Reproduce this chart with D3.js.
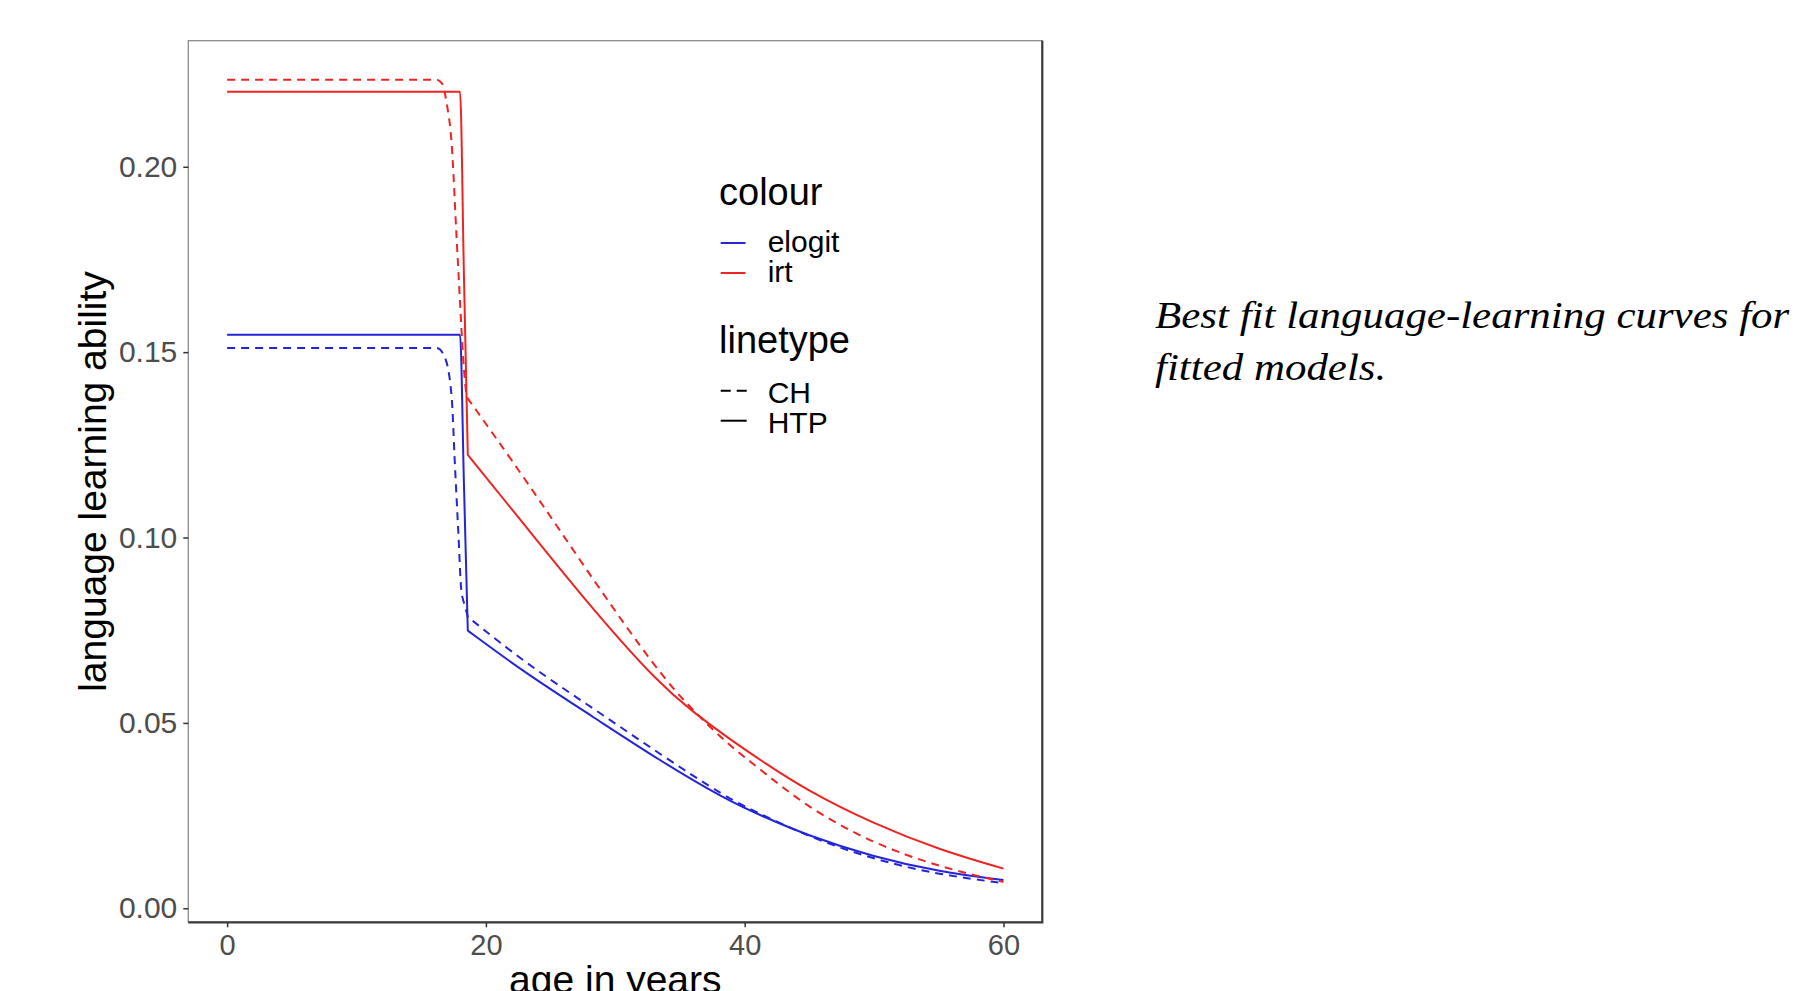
<!DOCTYPE html>
<html>
<head>
<meta charset="utf-8">
<script src="https://cdn.jsdelivr.net/npm/d3@7"></script>
<style>
    body { margin: 0; background: #fff; }
    .tick text { fill: #4d4d4d; }
    .tick line { stroke: #333; stroke-width: 1.5; }
    text { font-family: "Liberation Sans", Arial, sans-serif; }
    .axis-title { font-size: 39px; fill: #000; }
    .legend text { fill: #000; }
    .caption { font-family: "Liberation Serif", "Times New Roman", serif; font-style: italic; font-size: 38px; fill: #000; }
</style>
</head>
<body>
<div class="container"></div>
<script>
const WIDTH = 1799;
const HEIGHT = 991;

const PANEL_LEFT = 188.3;
const PANEL_RIGHT = 1042.3;
const PANEL_TOP = 40.7;
const PANEL_BOTTOM = 922.3;

// data
var xTicks = [0, 20, 40, 60];
var yTicks = [0, 0.05, 0.10, 0.15, 0.20];

var colourLevels = ["elogit", "irt"];
var linetypeLevels = ["CH", "HTP"];

// each curve: a plateau with its drop, then the decay tail (tail starts at the drop's end)
var irtHtpDropAges = [0, 18.0, 18.3, 18.6];
var irtHtpDropValues = [0.2202, 0.2202, 0.171, 0.1223];
var irtHtpTailAges = [18.6, 23.1, 28.3, 33.4, 36.0, 38.6, 41.2, 44.8, 49.9, 55.1, 60];
var irtHtpTailValues = [0.1223, 0.1029, 0.0804, 0.0605, 0.0530, 0.0462, 0.0400, 0.0318, 0.0229, 0.0157, 0.0107];

var irtChDropAges = [0, 16.2, 16.6, 16.97, 17.35, 17.73, 17.99, 18.25, 18.5];
var irtChDropValues = [0.2235, 0.2235, 0.2225, 0.2171, 0.2063, 0.1812, 0.1641, 0.1479, 0.138];
var irtChTailAges = [18.5, 23.1, 28.3, 33.4, 36.0, 38.6, 41.2, 44.8, 49.9, 55.1, 60];
var irtChTailValues = [0.138, 0.1155, 0.0885, 0.0633, 0.0534, 0.0445, 0.0375, 0.0273, 0.0175, 0.0111, 0.0071];

var elogitHtpDropAges = [0, 18.0, 18.3, 18.6];
var elogitHtpDropValues = [0.1547, 0.1547, 0.1148, 0.0749];
var elogitHtpTailAges = [18.6, 23.1, 28.3, 33.4, 38.6, 41.2, 44.8, 49.9, 55.1, 60];
var elogitHtpTailValues = [0.0749, 0.0633, 0.0516, 0.0399, 0.0292, 0.0251, 0.0197, 0.0139, 0.0098, 0.0076];

var elogitChDropAges = [0, 16.2, 16.8, 17.35, 17.6, 17.86, 18.1, 18.4, 18.6];
var elogitChDropValues = [0.1511, 0.1511, 0.1488, 0.138, 0.120, 0.102, 0.0858, 0.0813, 0.0786];
var elogitChTailAges = [18.6, 23.1, 28.3, 33.4, 38.6, 41.2, 44.8, 49.9, 55.1, 60];
var elogitChTailValues = [0.0786, 0.0660, 0.0539, 0.0417, 0.0298, 0.0255, 0.0195, 0.0132, 0.0090, 0.0068];

var captionLines = ["Best fit language-learning curves for", "fitted models."];

var colours = { elogit: "#2424d8", irt: "#ee2424" };
var dashes = { CH: "8,6", HTP: null };

var translate = function (x, y) {
    return "translate(" + x + "," + y + ")";
};

var zipSeries = function (ages, values) {
    return ages.map(function (a, i) {
        return { age: a, value: values[i] };
    });
};

var series = [
    { colour: "elogit", linetype: "CH",
      drop: zipSeries(elogitChDropAges, elogitChDropValues), tail: zipSeries(elogitChTailAges, elogitChTailValues) },
    { colour: "elogit", linetype: "HTP",
      drop: zipSeries(elogitHtpDropAges, elogitHtpDropValues), tail: zipSeries(elogitHtpTailAges, elogitHtpTailValues) },
    { colour: "irt", linetype: "CH",
      drop: zipSeries(irtChDropAges, irtChDropValues), tail: zipSeries(irtChTailAges, irtChTailValues) },
    { colour: "irt", linetype: "HTP",
      drop: zipSeries(irtHtpDropAges, irtHtpDropValues), tail: zipSeries(irtHtpTailAges, irtHtpTailValues) }
];

var loadChart = function () {
    var svg = d3.select('.container').append('svg')
        .attr('width', WIDTH)
        .attr('height', HEIGHT);

    var xScale = d3.scaleLinear()
        .domain([-3, 63])
        .range([PANEL_LEFT, PANEL_RIGHT]);

    var yScale = d3.scaleLinear()
        .domain([-0.00378, 0.2340])
        .range([PANEL_BOTTOM, PANEL_TOP]);

    // panel box
    svg.append('rect')
        .attr('x', PANEL_LEFT)
        .attr('y', PANEL_TOP)
        .attr('width', PANEL_RIGHT - PANEL_LEFT)
        .attr('height', PANEL_BOTTOM - PANEL_TOP)
        .attr('fill', 'none')
        .attr('stroke', '#8a8a8a')
        .attr('stroke-width', 1.3);

    svg.append('path')
        .attr('d', 'M' + PANEL_LEFT + ',' + PANEL_BOTTOM + 'H' + PANEL_RIGHT + 'V' + PANEL_TOP)
        .attr('fill', 'none')
        .attr('stroke', '#3a3a3a')
        .attr('stroke-width', 2.2);

    var xAxis = d3.axisBottom(xScale).tickValues(xTicks).tickSize(5).tickPadding(7);
    var yAxis = d3.axisLeft(yScale).tickValues(yTicks).tickSize(5).tickPadding(6)
        .tickFormat(d3.format('.2f'));

    svg.append('g')
        .attr('transform', translate(0, PANEL_BOTTOM))
        .call(xAxis)
        .call(function (g) { g.select('.domain').remove(); })
        .selectAll('text')
        .attr('font-size', 29);

    svg.append('g')
        .attr('transform', translate(PANEL_LEFT, 0))
        .call(yAxis)
        .call(function (g) { g.select('.domain').remove(); })
        .selectAll('text')
        .attr('font-size', 30);

    svg.selectAll('.tick text').attr('font-family', null);

    // curves: the drop is smoothed monotonically, the tail with a basis spline
    var dropLine = d3.line()
        .x(function (d) { return xScale(d.age); })
        .y(function (d) { return yScale(d.value); })
        .curve(d3.curveMonotoneX);

    var tailLine = d3.line()
        .x(function (d) { return xScale(d.age); })
        .y(function (d) { return yScale(d.value); })
        .curve(d3.curveBasis);

    svg.append('g')
        .selectAll('path')
        .data(series)
        .enter()
        .append('path')
        .attr('d', function (d) { return dropLine(d.drop) + tailLine(d.tail).replace(/^M[^A-Za-z]*/, 'L' + xScale(d.tail[0].age) + ',' + yScale(d.tail[0].value)); })
        .attr('fill', 'none')
        .attr('stroke', function (d) { return colours[d.colour]; })
        .attr('stroke-width', 2)
        .attr('stroke-linejoin', 'round')
        .attr('stroke-dasharray', function (d) { return dashes[d.linetype]; });

    // axis titles
    svg.append('text')
        .attr('class', 'axis-title')
        .attr('x', (PANEL_LEFT + PANEL_RIGHT) / 2)
        .attr('y', 993)
        .attr('text-anchor', 'middle')
        .text('age in years');

    svg.append('text')
        .attr('class', 'axis-title')
        .attr('transform', translate(106, (PANEL_TOP + PANEL_BOTTOM) / 2) + ' rotate(-90)')
        .attr('text-anchor', 'middle')
        .text('language learning ability');

    // legend
    var legend = svg.append('g').attr('class', 'legend');

    legend.append('text')
        .attr('x', 719)
        .attr('y', 205)
        .attr('font-size', 38)
        .text('colour');

    var colourItems = legend.selectAll('.colour-item')
        .data(colourLevels)
        .enter()
        .append('g')
        .attr('transform', function (d, i) { return translate(0, 252 + i * 30); });

    colourItems.append('line')
        .attr('x1', 720.7).attr('x2', 745.5)
        .attr('y1', -9).attr('y2', -9)
        .attr('stroke', function (d) { return colours[d]; })
        .attr('stroke-width', 2);

    colourItems.append('text')
        .attr('x', 767.7)
        .attr('font-size', 30)
        .text(function (d) { return d; });

    legend.append('text')
        .attr('x', 719)
        .attr('y', 353)
        .attr('font-size', 38)
        .text('linetype');

    var typeItems = legend.selectAll('.type-item')
        .data(linetypeLevels)
        .enter()
        .append('g')
        .attr('transform', function (d, i) { return translate(0, 402.7 + i * 30); });

    typeItems.append('line')
        .attr('x1', 720.7).attr('x2', 746.7)
        .attr('y1', -12).attr('y2', -12)
        .attr('stroke', '#000')
        .attr('stroke-width', 2)
        .attr('stroke-dasharray', function (d) { return d === 'CH' ? '10,6' : null; });

    typeItems.append('text')
        .attr('x', 767.7)
        .attr('font-size', 30)
        .text(function (d) { return d; });

    // caption (the source type is set a little wide)
    svg.append('g')
        .attr('transform', translate(1155, 0) + ' scale(1.13,1)')
        .selectAll('text')
        .data(captionLines)
        .enter()
        .append('text')
        .attr('class', 'caption')
        .attr('x', 0)
        .attr('y', function (d, i) { return 328 + i * 52; })
        .text(function (d) { return d; });
};

window.onload = function () {
    loadChart();
};
</script>
</body>
</html>
